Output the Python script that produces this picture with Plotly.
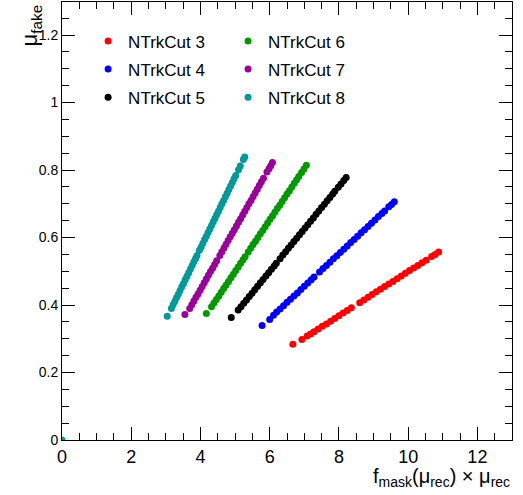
import plotly.graph_objects as go

# ---------------- data ----------------
x_cut3 = [6.67, 6.93, 7.08, 7.18, 7.28, 7.40, 7.52, 7.64, 7.76, 7.88, 8.00, 8.12, 8.24, 8.36,
          8.60, 8.72, 8.84, 8.96, 9.08, 9.20, 9.32, 9.44, 9.56, 9.68, 9.80, 9.92, 10.04, 10.16,
          10.28, 10.40, 10.52, 10.68, 10.78, 10.88]
y_cut3 = [0.284, 0.298, 0.308, 0.314, 0.321, 0.329, 0.337, 0.344, 0.352, 0.360, 0.368, 0.376, 0.384, 0.392,
          0.407, 0.415, 0.423, 0.431, 0.439, 0.447, 0.455, 0.462, 0.470, 0.478, 0.486, 0.494, 0.502, 0.510,
          0.517, 0.525, 0.533, 0.544, 0.550, 0.557]

x_cut4 = [5.78, 6.00, 6.11, 6.20, 6.30, 6.40, 6.50, 6.60, 6.70, 6.80, 6.90, 7.00, 7.10, 7.20, 7.28,
          7.44, 7.54, 7.64, 7.74, 7.84, 7.94, 8.04, 8.14, 8.24, 8.34, 8.44, 8.54, 8.64, 8.74, 8.84,
          8.94, 9.04, 9.14, 9.24, 9.32, 9.44, 9.52, 9.60]
y_cut4 = [0.339, 0.357, 0.370, 0.379, 0.388, 0.398, 0.408, 0.417, 0.427, 0.436, 0.446, 0.456, 0.465, 0.475, 0.483,
          0.498, 0.508, 0.517, 0.527, 0.537, 0.546, 0.556, 0.565, 0.575, 0.585, 0.594, 0.604, 0.614, 0.623, 0.633,
          0.642, 0.652, 0.662, 0.671, 0.679, 0.691, 0.698, 0.706]

x_cut5 = [4.89, 5.09, 5.17, 5.25, 5.33, 5.41, 5.49, 5.57, 5.65, 5.73, 5.81, 5.89, 5.97, 6.05, 6.13, 6.19,
          6.30, 6.38, 6.46, 6.54, 6.62, 6.70, 6.78, 6.86, 6.94, 7.02, 7.10, 7.18, 7.26, 7.34, 7.42, 7.50,
          7.58, 7.66, 7.74, 7.82, 7.88, 7.98, 8.06, 8.14, 8.21]
y_cut5 = [0.363, 0.385, 0.395, 0.405, 0.415, 0.425, 0.435, 0.445, 0.456, 0.466, 0.476, 0.486, 0.496, 0.506, 0.516, 0.524,
          0.537, 0.548, 0.558, 0.568, 0.578, 0.588, 0.598, 0.608, 0.618, 0.628, 0.638, 0.648, 0.658, 0.669, 0.679, 0.689,
          0.699, 0.709, 0.719, 0.729, 0.737, 0.749, 0.759, 0.769, 0.778]

x_cut6 = [4.17, 4.32, 4.39, 4.46, 4.53, 4.60, 4.67, 4.74, 4.81, 4.88, 4.95, 5.02, 5.09, 5.16, 5.23, 5.29,
          5.38, 5.45, 5.52, 5.59, 5.66, 5.73, 5.80, 5.87, 5.94, 6.01, 6.08, 6.15, 6.22, 6.29, 6.36, 6.43,
          6.50, 6.57, 6.64, 6.71, 6.78, 6.84, 6.92, 6.99, 7.06]
y_cut6 = [0.375, 0.395, 0.406, 0.416, 0.427, 0.438, 0.449, 0.459, 0.470, 0.481, 0.491, 0.502, 0.513, 0.524, 0.534, 0.543,
          0.557, 0.568, 0.579, 0.589, 0.600, 0.611, 0.621, 0.632, 0.643, 0.654, 0.664, 0.675, 0.686, 0.696, 0.707, 0.718,
          0.729, 0.739, 0.750, 0.761, 0.771, 0.781, 0.793, 0.803, 0.814]

x_cut7 = [3.55, 3.69, 3.75, 3.81, 3.87, 3.93, 3.99, 4.05, 4.11, 4.17, 4.23, 4.29, 4.35, 4.41, 4.47,
          4.56, 4.62, 4.68, 4.74, 4.80, 4.86, 4.92, 4.98, 5.04, 5.10, 5.16, 5.22, 5.28, 5.34, 5.40,
          5.46, 5.52, 5.58, 5.64, 5.70, 5.76, 5.82, 5.92, 5.98, 6.03, 6.08]
y_cut7 = [0.372, 0.390, 0.401, 0.412, 0.423, 0.433, 0.444, 0.455, 0.466, 0.477, 0.488, 0.499, 0.509, 0.520, 0.531,
          0.547, 0.558, 0.569, 0.580, 0.591, 0.602, 0.613, 0.623, 0.634, 0.645, 0.656, 0.667, 0.678, 0.689, 0.700,
          0.710, 0.721, 0.732, 0.743, 0.754, 0.765, 0.776, 0.794, 0.804, 0.813, 0.822]

x_cut8 = [0.0, 3.04, 3.16, 3.21, 3.26, 3.31, 3.36, 3.41, 3.46, 3.51, 3.56, 3.61, 3.66, 3.71, 3.76, 3.81, 3.86,
          3.90, 3.97, 4.02, 4.07, 4.12, 4.17, 4.22, 4.27, 4.32, 4.37, 4.42, 4.47, 4.52, 4.57, 4.62,
          4.67, 4.72, 4.77, 4.82, 4.87, 4.92, 4.97, 5.02, 5.10, 5.15, 5.24, 5.28]
y_cut8 = [0.0, 0.367, 0.390, 0.401, 0.411, 0.422, 0.432, 0.443, 0.454, 0.464, 0.475, 0.485, 0.496, 0.507, 0.517, 0.528, 0.538,
          0.547, 0.562, 0.572, 0.583, 0.594, 0.604, 0.615, 0.625, 0.636, 0.647, 0.657, 0.668, 0.678, 0.689, 0.700,
          0.710, 0.721, 0.731, 0.742, 0.753, 0.763, 0.774, 0.784, 0.801, 0.812, 0.831, 0.839]

series_names = ["NTrkCut 3", "NTrkCut 4", "NTrkCut 5", "NTrkCut 6", "NTrkCut 7", "NTrkCut 8"]
series_x = [x_cut3, x_cut4, x_cut5, x_cut6, x_cut7, x_cut8]
series_y = [y_cut3, y_cut4, y_cut5, y_cut6, y_cut7, y_cut8]
series_colors = ["#ff0000", "#0000ff", "#000000", "#009900", "#990099", "#009999"]
series_legend = ["legend", "legend", "legend", "legend2", "legend2", "legend2"]

FONT = "Liberation Sans, Arial, sans-serif"

fig = go.Figure()
for name, xs, ys, col, lg in zip(series_names, series_x, series_y, series_colors, series_legend):
    fig.add_trace(go.Scatter(
        x=xs, y=ys, mode="markers", name=name, legend=lg, legendgroup=name,
        marker=dict(color=col, size=7, line=dict(width=0)),
    ))

legend_style = dict(
    font=dict(family=FONT, size=17, color="#000000"),
    bgcolor="rgba(0,0,0,0)", borderwidth=0,
    xref="paper", yref="paper", xanchor="left", yanchor="top",
    itemclick=False, itemdoubleclick=False,
    traceorder="grouped", tracegroupgap=3,
)

fig.update_layout(
    width=523, height=495,
    margin=dict(l=62, r=11, t=2, b=55, autoexpand=False),
    paper_bgcolor="white", plot_bgcolor="white",
    font=dict(family=FONT, color="#000000"),
    legend=dict(x=0.058, y=0.951, **legend_style),
    legend2=dict(x=0.369, y=0.951, **legend_style),
    xaxis=dict(
        range=[0, 13], dtick=2, tick0=0,
        ticks="inside", ticklen=13, tickwidth=1, tickcolor="#000000",
        minor=dict(dtick=0.5, ticklen=7, tickwidth=1, tickcolor="#000000", ticks="inside"),
        showline=True, linecolor="#000000", linewidth=1, mirror="allticks",
        showgrid=False, zeroline=False,
        tickfont=dict(family=FONT, size=18, color="#000000"),
    ),
    yaxis=dict(
        range=[0, 1.298], dtick=0.2, tick0=0,
        ticks="inside", ticklen=13, tickwidth=1, tickcolor="#000000",
        minor=dict(dtick=0.05, ticklen=7, tickwidth=1, tickcolor="#000000", ticks="inside"),
        showline=True, linecolor="#000000", linewidth=1, mirror="allticks",
        showgrid=False, zeroline=False,
        tickfont=dict(family=FONT, size=14, color="#000000"),
    ),
    annotations=[
        dict(text="f<sub>mask</sub>(μ<sub>rec</sub>) × μ<sub>rec</sub>",
             xref="paper", yref="paper", x=1.0, y=-0.052, xanchor="right", yanchor="top",
             showarrow=False, font=dict(family=FONT, size=20, color="#000000")),
        dict(text="μ<sub>fake</sub>",
             xref="paper", yref="paper", x=-0.068, y=1.0, xanchor="center", yanchor="top",
             textangle=-90, showarrow=False, font=dict(family=FONT, size=22, color="#000000")),
    ],
)

fig.write_html("out.html", config={"displayModeBar": False},
               post_script="document.body.style.margin='0';document.body.style.padding='0';")
